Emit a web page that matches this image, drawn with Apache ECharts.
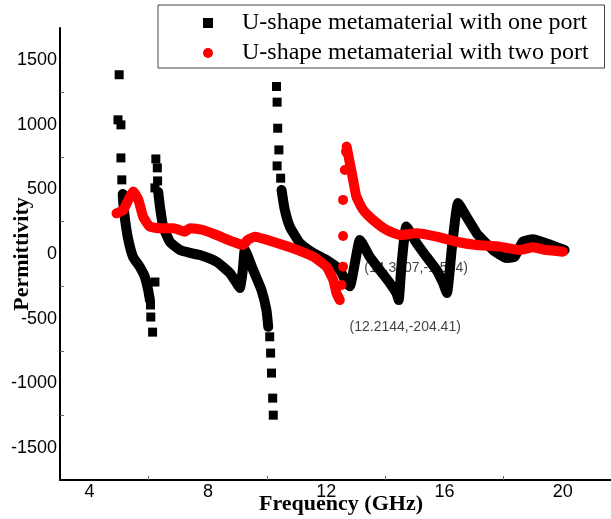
<!DOCTYPE html>
<html lang="en">
<head>
    <meta charset="UTF-8">
    <title>Permittivity</title>
    <style>
        html, body { margin: 0; padding: 0; background: #fff; }
    </style>
</head>
<body>

<div id="main" style="width: 611px;height:519px;"></div>

<script type="text/javascript" src="https://cdn.jsdelivr.net/npm/echarts@6/dist/echarts.min.js"></script>
<script type="text/javascript">

    var nameOne = 'U-shape metamaterial with one port';
    var nameTwo = 'U-shape metamaterial with two port';

    // one port: continuous parts, [GHz, permittivity]
    var oneBranchA = [[5.12, 465], [5.14, 395], [5.20, 264], [5.31, 109], [5.47, -23], [5.70, -101],
        [5.87, -178], [5.98, -279], [6.04, -357]];
    var oneBranchB = [[6.32, 481], [6.38, 364], [6.49, 209], [6.72, 93], [7.05, 31], [7.39, 8], [7.73, -8],
        [8.29, -60], [8.74, -147], [8.97, -225], [9.08, -264], [9.15, -180], [9.19, -101], [9.25, 31],
        [9.53, -124], [9.81, -279], [9.98, -434], [10.04, -564]];
    var oneBranchC = [[10.49, 496], [10.60, 341], [10.77, 212], [11.11, 85], [11.56, 8], [12.01, -47],
        [12.46, -124], [12.69, -225], [12.80, -250], [12.97, -70], [13.14, 109], [13.47, -21], [13.81, -124],
        [14.15, -225], [14.38, -305], [14.45, -357], [14.54, -100], [14.71, 212], [15.05, 85], [15.39, -21],
        [15.73, -124], [15.95, -225], [16.08, -302], [16.25, 50], [16.46, 395], [16.74, 289], [17.08, 163],
        [17.19, 134], [17.64, 31], [18.09, -31], [18.37, -21], [18.65, 95], [18.99, 114], [19.44, 83],
        [19.89, 44], [20.06, 31]];
    // one port: lone squares near the resonances
    var oneDots = [[5.00, 1388], [4.96, 1039], [5.06, 1000], [5.06, 744], [5.09, 574],
        [6.21, -217], [6.06, -395], [6.07, -488], [6.13, -605],
        [6.24, 736], [6.29, 667], [6.30, 566], [6.21, 512],
        [10.09, -641], [10.12, -767], [10.15, -922], [10.19, -1116], [10.21, -1248],
        [10.32, 1297], [10.34, 1176], [10.36, 974], [10.40, 806], [10.34, 682], [10.46, 587]];

    // two port
    var twoBranchA = [[4.91, 315], [5.14, 341], [5.31, 419], [5.48, 483], [5.65, 419], [5.81, 289],
        [6.04, 212], [6.38, 199], [6.83, 199], [7.22, 173], [7.39, 199], [7.84, 186], [8.29, 147],
        [8.85, 95], [9.19, 70], [9.35, 110], [9.59, 134], [10.20, 95], [10.88, 44], [11.56, -21],
        [12.01, -98], [12.24, -202], [12.35, -305], [12.46, -357]];
    var twoBranchB = [[12.69, 832], [12.80, 703], [12.91, 574], [13.02, 444], [13.25, 341], [13.58, 264],
        [14.04, 186], [14.49, 147], [15.05, 160], [15.73, 134], [16.40, 95], [17.08, 70], [17.86, 57],
        [18.54, 31], [18.99, 52], [19.44, 31], [20.00, 18]];
    var twoDots = [[12.52, -240], [12.57, -98], [12.57, 140], [12.57, 419], [12.63, 651], [12.67, 793]];

    var xLabels = [4, 8, 12, 16, 20];
    var xTicks = [6, 10, 14, 18];
    var yLabels = [-1500, -1000, -500, 0, 500, 1000, 1500];
    var yTicks = [-1250, -750, -250, 250, 750, 1250];

    var notes = [
        {point: [14.3707, -1.504], text: '(14.3707,-1.504)', offset: [-32, 14]},
        {point: [12.2144, -204.41], text: '(12.2144,-204.41)', offset: [17, 47]}
    ];

    function branchSeries(name, data, color, width, z) {
        return {
            name: name,
            type: 'line',
            data: data,
            showSymbol: false,
            smooth: 0.15,
            color: color,
            lineStyle: {color: color, width: width, join: 'round', cap: 'round'},
            z: z
        };
    }

    var series = [];
    // annotations under the markers
    notes.forEach(function (n) {
        series.push({
            type: 'scatter',
            data: [n.point],
            symbolSize: 0,
            silent: true,
            z: 1,
            label: {
                show: true,
                formatter: n.text,
                position: n.offset,
                align: 'left',
                verticalAlign: 'middle',
                fontFamily: 'Liberation Sans',
                fontSize: 14,
                color: '#111'
            }
        });
    });
    [oneBranchA, oneBranchB, oneBranchC].forEach(function (b) {
        series.push(branchSeries(nameOne, b, '#000', 10, 3));
    });
    series.push({
        name: nameOne, type: 'scatter', data: oneDots, symbol: 'rect', symbolSize: 9,
        color: '#000', itemStyle: {color: '#000', opacity: 1}, z: 3
    });
    [twoBranchA, twoBranchB].forEach(function (b) {
        series.push(branchSeries(nameTwo, b, '#ff0000', 10, 4));
    });
    series.push({
        name: nameTwo, type: 'scatter', data: twoDots, symbol: 'circle', symbolSize: 10,
        color: '#ff0000', itemStyle: {color: '#ff0000', opacity: 1}, z: 4
    });

    function plain(v) {
        return String(v);
    }

    var myChart = echarts.init(document.getElementById('main'));

    myChart.setOption({
        animation: false,
        grid: {left: 60, top: 28, width: 562, height: 452, containLabel: false, outerBoundsMode: 'none'},
        legend: {
            orient: 'vertical',
            left: 158,
            top: 5,
            padding: [3, 16, 0, 45],
            itemWidth: 10,
            itemHeight: 10,
            itemGap: 0,
            borderColor: '#444',
            borderWidth: 1,
            backgroundColor: '#fff',
            selectedMode: false,
            textStyle: {
                fontFamily: 'Liberation Serif',
                fontSize: 24,
                lineHeight: 30,
                color: '#000',
                padding: [0, 0, 0, 24]
            },
            data: [
                {name: nameOne, icon: 'rect'},
                {name: nameTwo, icon: 'circle'}
            ]
        },
        xAxis: {
            type: 'value',
            min: 3,
            max: 22,
            name: 'Frequency (GHz)',
            nameLocation: 'middle',
            nameGap: 13,
            nameMoveOverlap: false,
            nameTextStyle: {fontFamily: 'Liberation Serif', fontWeight: 'bold', fontSize: 22, color: '#000'},
            axisLine: {onZero: false, lineStyle: {color: '#000', width: 2}},
            axisTick: {show: true, inside: true, length: 4, customValues: xTicks, lineStyle: {color: '#666'}},
            axisLabel: {customValues: xLabels, formatter: plain, margin: 3, fontFamily: 'Liberation Sans', fontSize: 18, color: '#000'},
            splitLine: {show: false}
        },
        yAxis: {
            type: 'value',
            min: -1750,
            max: 1750,
            name: 'Permittivity',
            nameLocation: 'middle',
            nameGap: 27,
            nameMoveOverlap: false,
            nameTextStyle: {fontFamily: 'Liberation Serif', fontWeight: 'bold', fontSize: 22, color: '#000'},
            axisLine: {show: true, onZero: false, lineStyle: {color: '#000', width: 2}},
            axisTick: {show: true, inside: true, length: 4, customValues: yTicks, lineStyle: {color: '#666'}},
            axisLabel: {customValues: yLabels, formatter: plain, margin: 3, fontFamily: 'Liberation Sans', fontSize: 18, color: '#000'},
            splitLine: {show: false}
        },
        series: series
    });
</script>
</body>
</html>
